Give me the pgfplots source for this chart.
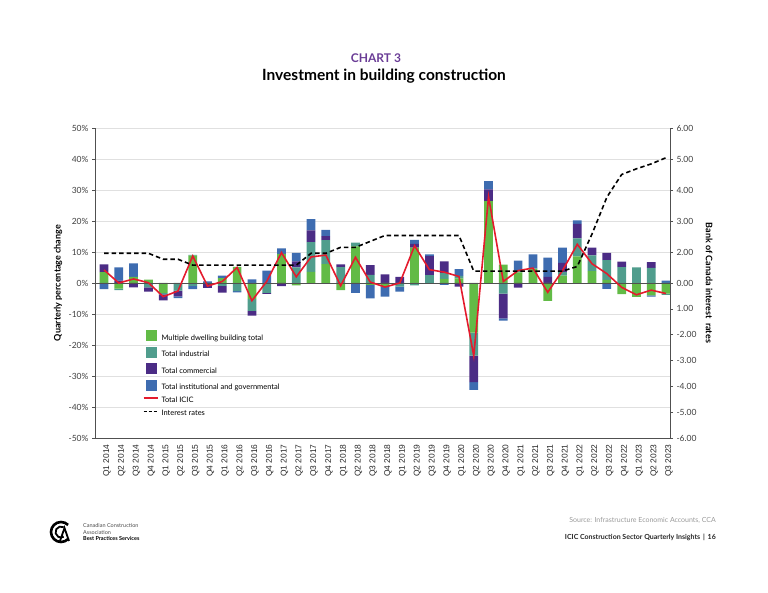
\documentclass[border=0pt]{standalone}
\usepackage{fontspec}
\setmainfont{Lato}
\newfontfamily\arialf{Liberation Sans}
\usepackage{pgfplots}
\usepackage{pgfplotstable}
\pgfplotsset{compat=1.18}
\definecolor{cgreen}{RGB}{98,187,70}
\definecolor{cteal}{RGB}{80,157,141}
\definecolor{cpurple}{RGB}{75,44,133}
\definecolor{cblue}{RGB}{62,108,176}
\definecolor{cred}{RGB}{228,27,45}
\definecolor{ctitle}{RGB}{106,60,150}
\definecolor{caxis}{RGB}{80,80,80}

\pgfplotstableread{
i gp tp pp bp gn tn pn bn icic rate
0 3.5 0 2.5 0 0 0 0 -2.0 4.2 1.15
1 0 0 0.8 4.2 -1.8 -0.5 0 0 0.0 1.15
2 2.0 0 0 4.3 0 0 -1.4 0 1.3 1.15
3 1.1 0 0 0 0 -1.4 -1.4 0 0.1 1.15
4 0 0 0 0 -3.2 -0.5 -1.9 0 -4.4 0.92
5 0 0 0 0 0 -2.5 -1.8 -0.6 -2.6 0.92
6 8.8 0.3 0 0 0 -0.9 0 -1.1 8.7 0.69
7 0 0 0 0.5 0 -0.3 -1.3 0 -1.0 0.69
8 1.6 0 0 0.8 0 -0.9 -2.2 0 0.5 0.69
9 5.2 0 0 0 0 -2.6 0 -0.4 5.0 0.69
10 0 0 0 1.2 -5.2 -3.8 -1.5 0 -5.7 0.69
11 0 0 0 4.0 0 -3.2 -0.3 0 0.5 0.69
12 9.4 0 0 1.8 0 0 -1.0 0 9.8 0.69
13 0 5.0 2.0 2.7 -0.8 0 0 0 2.0 0.69
14 3.6 9.6 3.8 3.6 0 0 0 0 8.4 1.15
15 6.1 7.7 1.3 2.0 0 0 0 0 9.0 1.15
16 0 5.1 0.9 0 -2.3 0 0 0 -0.9 1.38
17 11.8 1.2 0 0 0 0 0 -3.2 8.3 1.38
18 0 2.6 3.2 0 -0.6 0 0 -4.4 0.3 1.61
19 0 0 2.8 0 -0.9 -0.3 0 -3.2 -1.3 1.84
20 0 0 2.0 0 0 -1.2 0 -1.6 0.0 1.84
21 11.4 0 1.2 1.3 0 -0.8 0 0 12.0 1.84
22 0 2.5 6.2 0.5 0 0 0 0 4.3 1.84
23 1.3 1.9 3.8 0 0 0 0 -0.6 3.5 1.84
24 1.5 0.8 0 2.2 0 0 -1.2 0 2.1 1.84
25 0 0 0 0 -16.0 -7.4 -8.6 -2.5 -23.5 0.46
26 26.4 0 3.8 2.7 0 0 0 0 27.8 0.46
27 5.9 0 0 0 0 -3.4 -8.0 -0.7 0.5 0.46
28 3.4 0.6 0 3.2 0 0 -1.5 0 4.0 0.46
29 4.6 0 0 4.6 0 0 0 0 4.8 0.46
30 0 0 2.0 6.2 -5.8 0 0 0 -3.0 0.46
31 2.4 1.1 3.0 4.9 0 0 0 0 4.0 0.46
32 8.6 5.8 4.7 1.1 0 0 0 0 12.5 0.64
33 3.8 5.1 2.5 0 0 0 0 0 6.2 1.90
34 1.0 6.4 2.3 0 0 0 0 -1.9 3.0 3.32
35 0 5.1 1.8 0 -3.6 0 0 0 -1.4 4.20
36 0 5.0 0 0 -4.5 0 0 0 -3.8 4.42
37 0 4.9 1.8 0 -4.0 0 0 -0.4 -2.3 4.61
38 0 0 0 0.8 -3.4 -0.4 0 0 -3.4 4.85
}\data

\pgfplotsset{
  base/.style={
    at={(95pt,155pt)}, anchor=south west,
    width=575pt, height=310pt, scale only axis,
    xmin=-0.61, xmax=38.27, enlargelimits=false,
  },
  pct/.style={ymin=-50, ymax=50},
}

\begin{document}
\begin{tikzpicture}
\useasboundingbox (0pt,0pt) rectangle (768pt,593pt);

% titles
\node[font=\bfseries\fontsize{12}{14}\selectfont, text=ctitle] at (376pt,535pt) {CHART 3};
\node[font=\bfseries\fontsize{15.5}{18}\selectfont] at (384pt,517pt) {Investment in building construction};

% positive stacks + main axis
\begin{axis}[base, pct, ybar stacked, bar width=0.59,
  axis x line*=bottom, axis y line*=left,
  axis line style={-, draw=caxis, line width=0.9pt},
  ytick={-50,-40,...,50},
  yticklabel={\pgfmathprintnumber{\tick}\%},
  /pgf/number format/assume math mode=true,
  ymajorgrids, major grid style={draw=black!12, line width=0.8pt},
  tick align=outside, major tick length=3pt,
  ytick style={draw=caxis, line width=0.6pt},
  xtick={0,...,38}, xtick style={draw=none},
  xticklabels={Q1 2014,Q2 2014,Q3 2014,Q4 2014,Q1 2015,Q2 2015,Q3 2015,Q4 2015,Q1 2016,Q2 2016,Q3 2016,Q4 2016,Q1 2017,Q2 2017,Q3 2017,Q4 2017,Q1 2018,Q2 2018,Q3 2018,Q4 2018,Q1 2019,Q2 2019,Q3 2019,Q4 2019,Q1 2020,Q2 2020,Q3 2020,Q4 2020,Q1 2021,Q2 2021,Q3 2021,Q4 2021,Q1 2022,Q2 2022,Q3 2022,Q4 2022,Q1 2023,Q2 2023,Q3 2023},
  xticklabel style={rotate=90, anchor=east, yshift=-3pt, font=\arialf\fontsize{8.4}{10}\selectfont, text=black!85},
  yticklabel style={font=\fontsize{8.5}{10}\selectfont, text=black!75},
  ylabel={Quarterly percentage change},
  ylabel style={at={(axis description cs:-0.064,0.5)}, anchor=center, font=\bfseries\fontsize{9}{11}\selectfont},
]
\addplot[fill=cgreen, draw=none] table[x=i, y=gp]{\data};
\addplot[fill=cteal, draw=none] table[x=i, y=tp]{\data};
\addplot[fill=cpurple, draw=none] table[x=i, y=pp]{\data};
\addplot[fill=cblue, draw=none] table[x=i, y=bp]{\data};
\end{axis}

% negative stacks
\begin{axis}[base, pct, hide axis, ybar stacked, bar width=0.59]
\addplot[fill=cgreen, draw=none] table[x=i, y=gn]{\data};
\addplot[fill=cteal, draw=none] table[x=i, y=tn]{\data};
\addplot[fill=cpurple, draw=none] table[x=i, y=pn]{\data};
\addplot[fill=cblue, draw=none] table[x=i, y=bn]{\data};
\end{axis}

% zero line, total ICIC and the legend
\begin{axis}[base, pct, hide axis,
  legend style={at={(0.083,0.348)}, anchor=north west, draw=none, fill=none,
    inner sep=0pt, row sep=4.2pt, font=\fontsize{7.5}{9}\selectfont,
    nodes={inner xsep=3pt, inner ysep=1pt}},
  legend cell align=left,
]
\draw[caxis, line width=0.9pt] ({rel axis cs:0,0}|-{axis cs:0,0}) -- ({rel axis cs:1,0}|-{axis cs:0,0});
\addlegendimage{legend image code/.code={\fill[cgreen] (2pt,-2.4pt) rectangle (12pt,7.6pt);}}
\addlegendentry{Multiple dwelling building total}
\addlegendimage{legend image code/.code={\fill[cteal] (2pt,-2.4pt) rectangle (12pt,7.6pt);}}
\addlegendentry{Total industrial}
\addlegendimage{legend image code/.code={\fill[cpurple] (2pt,-2.4pt) rectangle (12pt,7.6pt);}}
\addlegendentry{Total commercial}
\addlegendimage{legend image code/.code={\fill[cblue] (2pt,-2.4pt) rectangle (12pt,7.6pt);}}
\addlegendentry{Total institutional and governmental}
\addplot[cred, line width=1.6pt, legend image code/.code={\draw[cred, line width=1.6pt] (0pt,2.6pt) -- (14pt,2.6pt);}] table[x=i, y=icic]{\data};
\addlegendentry{Total ICIC}
\addlegendimage{legend image code/.code={\draw[black, line width=1.5pt, dash pattern=on 3pt off 1.9pt] (0pt,2.6pt) -- (14pt,2.6pt);}}
\addlegendentry{Interest rates}
\end{axis}

% right axis: interest rates
\begin{axis}[base, ymin=-6, ymax=6,
  axis x line=none, axis y line*=right,
  axis line style={-, draw=caxis, line width=0.9pt},
  ytick={6,4.8,3.6,2.4,1.2,0,-1,-2,-3,-4,-5,-6},
  yticklabels={6.00,5.00,4.00,3.00,2.00,0.00,1.00,-2.00,-3.00,-4.00,-5.00,-6.00},
  tick align=outside, major tick length=3pt,
  ytick style={draw=caxis, line width=0.6pt},
  yticklabel style={font=\fontsize{8.5}{10}\selectfont, text=black!75},
  ylabel={Bank of Canada interest\ \ rates},
  ylabel style={at={(axis description cs:1.068,0.5)}, anchor=center, rotate=180, font=\bfseries\fontsize{9}{11}\selectfont},
]
\addplot[black, line width=1.6pt, dash pattern=on 4.5pt off 3pt] table[x=i, y=rate]{\data};
\end{axis}

% footer
\begin{scope}[shift={(61pt,61pt)}]
\draw[line width=2.6pt] (45:10pt) arc (45:315:10pt);
\draw[line width=1.8pt] (60:5.5pt) arc (60:300:5.5pt);
\draw[line width=1.8pt, line join=miter] (-1pt,-9pt) -- (3.5pt,4pt) -- (8pt,-9pt);
\end{scope}
\node[anchor=base west, font=\fontsize{5.5}{6}\selectfont, text=black!70, inner sep=0pt] at (83pt,65pt) {Canadian Construction};
\node[anchor=base west, font=\fontsize{5.5}{6}\selectfont, text=black!70, inner sep=0pt] at (83pt,58.5pt) {Association};
\node[anchor=base west, font=\bfseries\fontsize{5.5}{6}\selectfont, inner sep=0pt] at (83pt,52pt) {Best Practices Services};
\node[anchor=base east, font=\fontsize{7}{8}\selectfont, text=black!40, inner sep=0pt] at (716pt,70pt) {Source: Infrastructure Economic Accounts, CCA};
\node[anchor=base east, font=\bfseries\fontsize{7}{8}\selectfont, text=black!85, inner sep=0pt] at (716pt,53pt) {ICIC Construction Sector Quarterly Insights \,|\, 16};
\end{tikzpicture}
\end{document}
